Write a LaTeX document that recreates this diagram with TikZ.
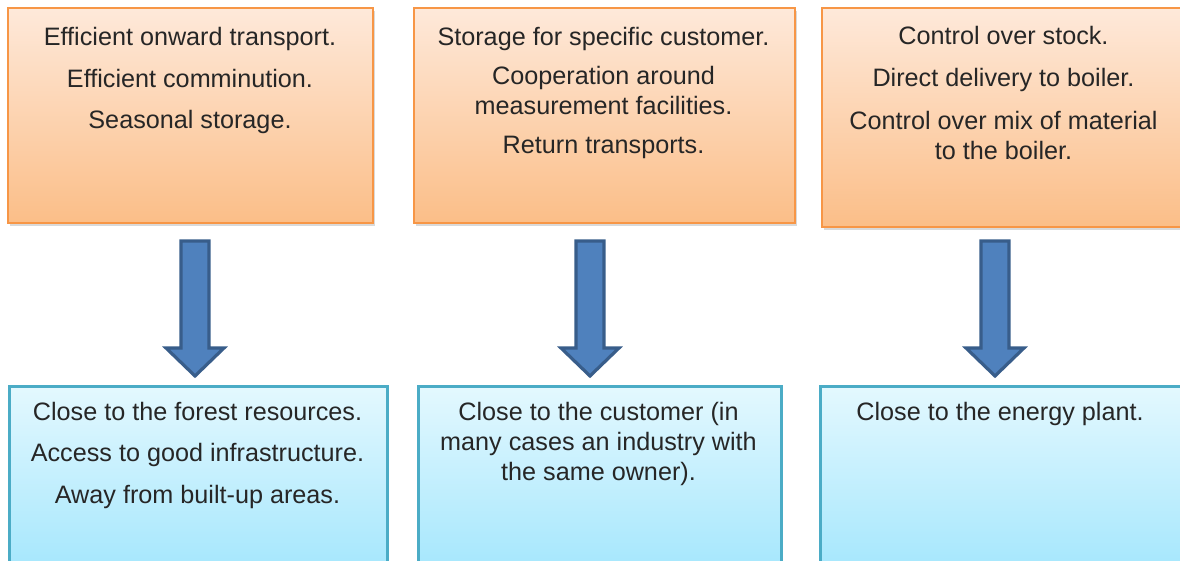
\documentclass[tikz,border=0pt]{standalone}
\usepackage{fontspec}
\setmainfont{Liberation Sans}
\usetikzlibrary{shadows}
\definecolor{orbord}{HTML}{F79646}
\definecolor{ortop}{HTML}{FEE9DA}
\definecolor{orbot}{HTML}{FBBE88}
\definecolor{blbord}{HTML}{4BACC6}
\definecolor{bltop}{HTML}{E3F8FE}
\definecolor{blbot}{HTML}{A2E6FD}
\definecolor{arfill}{HTML}{4F81BD}
\definecolor{arbord}{HTML}{385D8A}
\definecolor{txt}{HTML}{262626}
\newcommand{\topstrut}{\rule{0pt}{10pt}}
\tikzset{
  obox/.style={draw=orbord, line width=1pt, top color=ortop, bottom color=orbot,
    inner sep=0pt, drop shadow={shadow xshift=1pt, shadow yshift=-1.5pt, opacity=0.3}},
  bbox/.style={draw=blbord, line width=1.5pt, top color=bltop, bottom color=blbot,
    inner sep=0pt, drop shadow={shadow xshift=1pt, shadow yshift=-1.5pt, opacity=0.3}},
  lbl/.style={anchor=north, align=center, inner sep=0pt, text=txt,
    font=\fontsize{12.6}{15}\selectfont},
  blockarrow/.style={fill=arfill, draw=arbord, line width=1.6pt, line join=miter}
}
\begin{document}
\begin{tikzpicture}[x=0.5pt, y=-0.5pt]
\useasboundingbox (0,0) rectangle (1180,561);
% top boxes
\node[obox, minimum width=182.5pt, minimum height=107.3pt] (t1) at (190.5,115.3) {};
\node[obox, minimum width=190.5pt, minimum height=107.3pt] (t2) at (604.5,115.3) {};
\node[obox, minimum width=184pt, minimum height=109.5pt] (t3) at (1006,117.5) {};
% bottom boxes
\node[bbox, minimum width=189pt, minimum height=96.5pt] (b1) at (198,483.5) {};
\node[bbox, minimum width=181.5pt, minimum height=96.5pt] (b2) at (599.5,483.5) {};
\node[bbox, minimum width=185pt, minimum height=96.5pt] (b3) at (1005,483.5) {};
% texts (first baseline 20 px below the north anchor)
\node[lbl] (t1x) at (190,25.5) {\topstrut Efficient onward transport.\\[5.75pt]Efficient comminution.\\[5.75pt]Seasonal storage.};
\node[lbl] (t2x) at (603.5,25.5) {\topstrut Storage for specific customer.\\[4.5pt]Cooperation around\\measurement facilities.\\[4.5pt]Return transports.};
\node[lbl] (t3x) at (1003.5,24) {\topstrut Control over stock.\\[6.25pt]Direct delivery to boiler.\\[6.25pt]Control over mix of material\\to the boiler.};
\node[lbl] (b1x) at (197.5,400) {\topstrut Close to the forest resources.\\[5.75pt]Access to good infrastructure.\\[5.75pt]Away from built-up areas.};
\node[lbl] (b2x) at (598.5,400) {\topstrut Close to the customer (in\\many cases an industry with\\the same owner).};
\node[lbl] (b3x) at (1000,400) {\topstrut Close to the energy plant.};
% block arrows
\foreach \c in {195,590,995}{
  \draw[blockarrow] ({\c-14},241) -- ({\c+14},241) -- ({\c+14},348) -- ({\c+29},348)
    -- (\c,376) -- ({\c-29},348) -- ({\c-14},348) -- cycle;
}
\end{tikzpicture}
\end{document}
